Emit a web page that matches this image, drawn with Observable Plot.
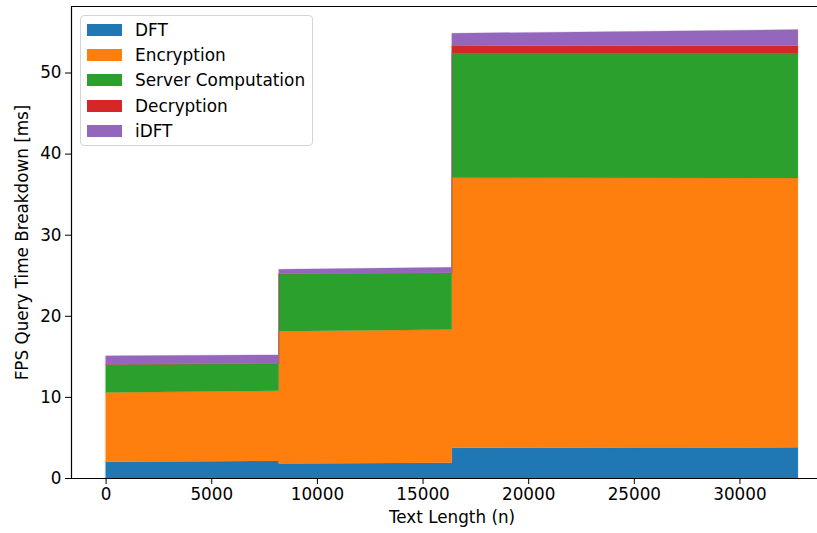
<!DOCTYPE html>
<html><head><meta charset="utf-8">
<script src="https://cdn.jsdelivr.net/npm/d3@7"></script>
<script src="https://cdn.jsdelivr.net/npm/@observablehq/plot@0.6"></script>
<style>
html,body{margin:0;padding:0;background:#fff;}
#wrap{position:relative;width:817px;height:533px;font-family:"DejaVu Sans",sans-serif;color:#000;}
.legend{position:absolute;left:80px;top:15px;width:233px;height:131px;border:1px solid #d5d5d5;border-radius:4px;background:rgba(255,255,255,0.8);box-sizing:border-box;}
.item{position:absolute;left:0;height:20px;}
.sw{position:absolute;left:6px;top:4px;width:35px;height:12px;}
.lb{position:absolute;left:54px;top:0;font-size:16.9px;line-height:20px;white-space:nowrap;}
</style></head>
<body><div id="wrap"></div>
<script>
// ---- data ----
const textLength = [0, 8192, 8192, 16384, 16384, 32768];
const seriesNames = ["DFT", "Encryption", "Server Computation", "Decryption", "iDFT"];
const dft        = [2.00, 2.10, 1.80, 1.88, 3.73, 3.78];
const encryption = [8.55, 8.65, 16.30, 16.42, 33.30, 33.22];
const server     = [3.45, 3.35, 7.06, 6.98, 15.27, 15.30];
const decryption = [0.03, 0.03, 0.03, 0.03, 0.98, 1.00];
const idft       = [1.03, 1.07, 0.55, 0.67, 1.56, 2.00];
const colors = ["#1f77b4", "#ff7f0e", "#2ca02c", "#d62728", "#9467bd"];
const xTicks = [0, 5000, 10000, 15000, 20000, 25000, 30000];
const yTicks = [0, 10, 20, 30, 40, 50];
const xDomain = [-1638, 33670];
const yDomain = [0, 58.2];

// ---- build stacked rows ----
const seriesValues = [dft, encryption, server, decryption, idft];
const rows = [];
textLength.forEach((x, i) => {
  let base = 0;
  seriesValues.forEach((vals, s) => {
    rows.push({x, series: seriesNames[s], y1: base, y2: base + vals[i]});
    base += vals[i];
  });
});

const fs = 16.8;
const chart = Plot.plot({
  width: 817, height: 533,
  marginLeft: 71, marginRight: 0, marginTop: 6, marginBottom: 55,
  style: {fontFamily: "DejaVu Sans", fontSize: fs + "px", color: "#000", background: "#fff", overflow: "visible"},
  x: {domain: xDomain},
  y: {domain: yDomain},
  color: {domain: seriesNames, range: colors},
  marks: [
    Plot.areaY(rows, {x: "x", y1: "y1", y2: "y2", fill: "series", z: "series", stroke: "series", strokeWidth: 0.5, strokeOpacity: 0.5}),
    Plot.axisX({ticks: xTicks, tickSize: 6, tickPadding: 4, tickFormat: d => String(d), label: null, fontSize: fs}),
    Plot.axisY({ticks: yTicks, tickSize: 6, tickPadding: 4, tickFormat: d => String(d), label: null, fontSize: fs}),
    Plot.ruleX([xDomain[0]], {stroke: "#000", strokeWidth: 1.2}),
    Plot.ruleY([yDomain[0], yDomain[1]], {stroke: "#000", strokeWidth: 1.2}),
    Plot.text(["Text Length (n)"], {frameAnchor: "bottom", dy: 44, dx: 7.5, fontSize: fs, fill: "#000"}),
    Plot.text(["FPS Query Time Breakdown [ms]"], {frameAnchor: "left", textAnchor: "middle", rotate: -90, dx: -49, fontSize: fs, fill: "#000"})
  ]
});
const wrap = document.getElementById("wrap");
wrap.appendChild(chart);

// legend overlay
const lg = document.createElement("div");
lg.className = "legend";
seriesNames.forEach((name, i) => {
  const it = document.createElement("div");
  it.className = "item";
  it.style.top = (3.5 + i * 25.4) + "px";
  const sw = document.createElement("div");
  sw.className = "sw";
  sw.style.background = colors[i];
  const lb = document.createElement("div");
  lb.className = "lb";
  lb.textContent = name;
  it.appendChild(sw); it.appendChild(lb);
  lg.appendChild(it);
});
wrap.appendChild(lg);
</script></body></html>
